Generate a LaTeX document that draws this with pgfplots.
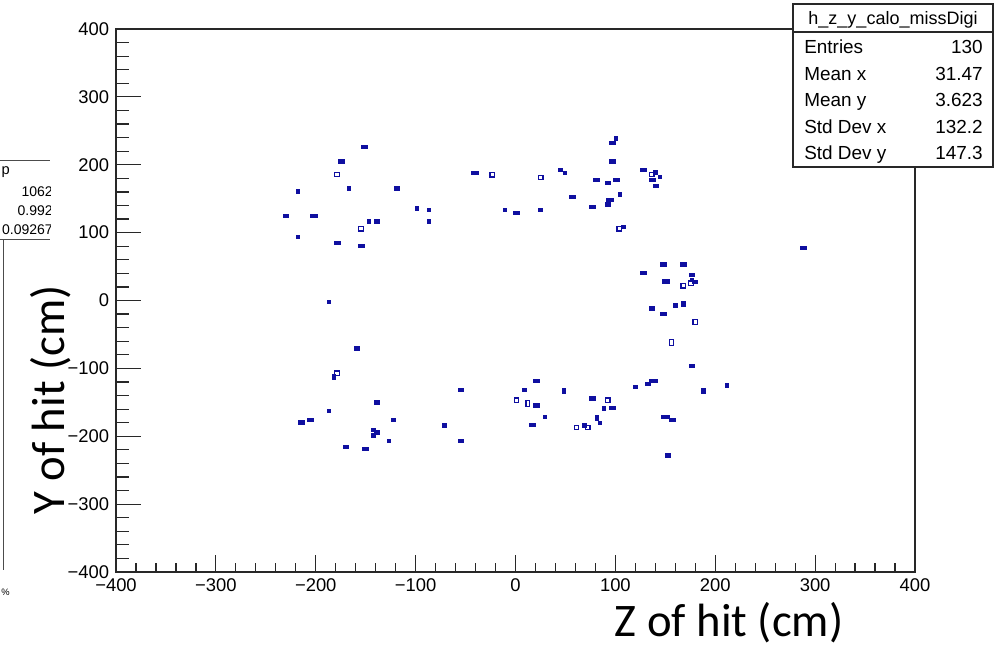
\documentclass[border=0pt]{standalone}
\usepackage{pgfplots}
\pgfplotsset{compat=1.18}
\usepackage{fontspec}
\setmainfont{Liberation Sans}
\newfontfamily\carlito{Carlito}
\definecolor{rootblue}{RGB}{15,15,160}
\definecolor{frame}{RGB}{40,40,40}

\pgfplotstableread{
x y
-166.7 165.4
-218.0 161.0
-86.7 134.0
-86.7 116.8
-146.7 116.8
-218.0 93.8
-187.0 -1.6
44.7 193.0
49.0 188.5
140.0 189.0
144.3 182.2
104.6 156.5
-11.0 134.0
24.7 134.0
108.0 108.5
176.7 30.9
160.0 -7.0
-186.7 -162.5
-122.3 -175.4
-71.3 -183.7
-142.3 -190.0
-142.3 -198.5
-126.7 -206.8
8.7 -131.1
29.0 -171.0
88.7 -158.7
84.7 -179.8
68.7 -183.7
120.0 -126.8
}\dots

\pgfplotstableread{
x y
-151.3 226.3
-174.7 205.2
-119.0 165.4
-230.0 125.2
-138.7 116.8
-178.7 85.4
-154.6 81.0
-158.7 -70.4
96.7 232.7
96.7 205.2
81.0 178.2
92.4 173.8
101.0 178.2
128.0 193.0
136.7 178.2
140.4 169.4
56.7 152.7
92.4 141.8
76.7 137.9
1.0 129.6
148.0 53.4
168.0 53.4
128.0 41.2
176.3 37.3
179.7 28.3
136.3 -11.4
148.0 -19.7
176.3 -95.8
-54.7 -131.1
-138.7 -149.9
-205.7 -175.4
-214.3 -179.4
-138.7 -194.1
-54.7 -206.8
-170.0 -215.1
-150.3 -219.1
21.0 -118.4
21.0 -154.3
16.7 -183.7
76.7 -144.0
96.7 -158.7
132.3 -122.8
156.7 -175.4
152.3 -228.0
288.0 77.7
}\dashes

\pgfplotstableread{
x y
-202.3 125.2
-41.0 188.5
94.3 148.7
150.3 28.3
138.0 -117.9
150.0 -171.0
}\wides

\pgfplotstableread{
x y
-99.0 136.0
100.7 239.0
168.0 -4.9
-182.3 -112.4
48.7 -133.1
81.0 -172.9
188.0 -133.1
211.7 -124.8
}\talls

\pgfplotstableread{
x y
-178.7 185.6
-154.6 105.6
-23.3 185.2
25.3 181.2
136.3 185.6
104.0 105.6
175.7 25.5
168.0 21.6
180.0 -31.5
-178.7 -107.2
1.0 -146.9
92.4 -146.9
61.0 -187.2
72.4 -187.2
}\hollows

\pgfplotstableread{
x y
156.3 -62.0
12.4 -151.8
}\hollowtalls

\begin{document}
\begin{tikzpicture}
\path[use as bounding box] (0,0) rectangle (749.25pt,-485.25pt);
\fill[white] (0,0) rectangle (749.25pt,-485.25pt);

% left fragment of a neighbouring pad
\begin{scope}[x=0.75pt,y=-0.75pt]
\draw[line width=0.6pt, black!70] (0,160) -- (50,160);
\draw[line width=0.6pt, black!70] (0,239) -- (50,239);
\draw[line width=0.6pt, black!70] (3,239) -- (3,570);
\begin{scope}
\clip (0,150) rectangle (50,245);
\node[anchor=base east, inner sep=0pt, font=\fontsize{11}{11}\selectfont] at (10,174) {p};
\node[anchor=base east, inner sep=0pt, font=\fontsize{10.5}{11}\selectfont] at (53,196) {1062};
\node[anchor=base east, inner sep=0pt, font=\fontsize{10.5}{11}\selectfont] at (53,215) {0.992};
\node[anchor=base east, inner sep=0pt, font=\fontsize{10.5}{11}\selectfont] at (53,234) {0.09267};
\end{scope}
\node[anchor=base west, inner sep=0pt, font=\fontsize{7}{7}\selectfont] at (1,595) {\%};
\end{scope}

\begin{axis}[
 at={(87pt,-429pt)}, anchor=south west, scale only axis,
 width=599.25pt, height=407.25pt,
 xmin=-400, xmax=400, ymin=-400, ymax=400,
 axis line style={line width=0.9pt, frame},
 xtick={-400,-300,-200,-100,0,100,200,300,400},
 xticklabels={−400,−300,−200,−100,0,100,200,300,400},
 minor x tick num=4,
 ytick=\empty,
 xtick pos=left, tick align=inside,
 major tick length=12.75pt, minor tick length=6.5pt,
 every tick/.style={line width=0.9pt, frame},
 xticklabel style={font=\fontsize{13.8}{14}\selectfont, inner sep=0pt, anchor=north, yshift=-4.8pt},
 clip=false,
]
\addplot[only marks, mark=square*, mark size=1.25pt, color=rootblue] table {\dots};
\addplot[only marks, mark=square*, mark size=1.15pt, mark options={xscale=1.8}, color=rootblue] table {\dashes};
\addplot[only marks, mark=square*, mark size=1.2pt, mark options={xscale=2.3}, color=rootblue] table {\wides};
\addplot[only marks, mark=square*, mark size=1.7pt, mark options={xscale=0.7}, color=rootblue] table {\talls};
\addplot[only marks, mark=square, mark size=1.7pt, mark options={line width=0.95pt}, color=rootblue] table {\hollows};
\addplot[only marks, mark=square, mark size=1.7pt, mark options={line width=0.95pt, xscale=0.8, yscale=1.3}, color=rootblue] table {\hollowtalls};
\end{axis}

\begin{axis}[
 at={(87pt,-429pt)}, anchor=south west, scale only axis,
 width=599.25pt, height=407.25pt,
 xmin=-400, xmax=400, ymin=-400, ymax=400,
 axis line style={draw=none},
 xtick=\empty,
 ytick={-400,-300,-200,-100,0,100,200,300,400},
 yticklabels={−400,−300,−200,−100,0,100,200,300,400},
 minor y tick num=4,
 ytick pos=left, tick align=inside,
 major tick length=18.75pt, minor tick length=9.5pt,
 every tick/.style={line width=0.9pt, frame},
 yticklabel style={font=\fontsize{13.8}{14}\selectfont, inner sep=0pt, anchor=east, xshift=-5pt},
]
\end{axis}

\begin{scope}[x=0.75pt,y=-0.75pt]
% axis titles
\node[font=\carlito\fontsize{35}{36}\selectfont, rotate=90, inner sep=0pt] at (51,400) {Y of hit (cm)};
\node[font=\carlito\fontsize{35}{36}\selectfont, inner sep=0pt, anchor=base] at (729,636) {Z of hit (cm)};
% stats box
\draw[line width=0.8pt, frame, fill=white] (793,4) rectangle (993,167);
\draw[line width=0.8pt, frame] (793,32) -- (993,32);
\node[font=\fontsize{13.5}{14}\selectfont, inner sep=0pt, anchor=base] at (893,24) {h\_z\_y\_calo\_missDigi};
\foreach \lab/\val/\yy in {Entries/130/53.5, Mean x/31.47/80, Mean y/3.623/106, Std Dev x/132.2/133, Std Dev y/147.3/159.5}{
  \node[font=\fontsize{14.2}{15}\selectfont, inner sep=0pt, anchor=base west] at (804,\yy) {\lab};
  \node[font=\fontsize{14.2}{15}\selectfont, inner sep=0pt, anchor=base east] at (983,\yy) {\val};
}
\end{scope}
\end{tikzpicture}
\end{document}
